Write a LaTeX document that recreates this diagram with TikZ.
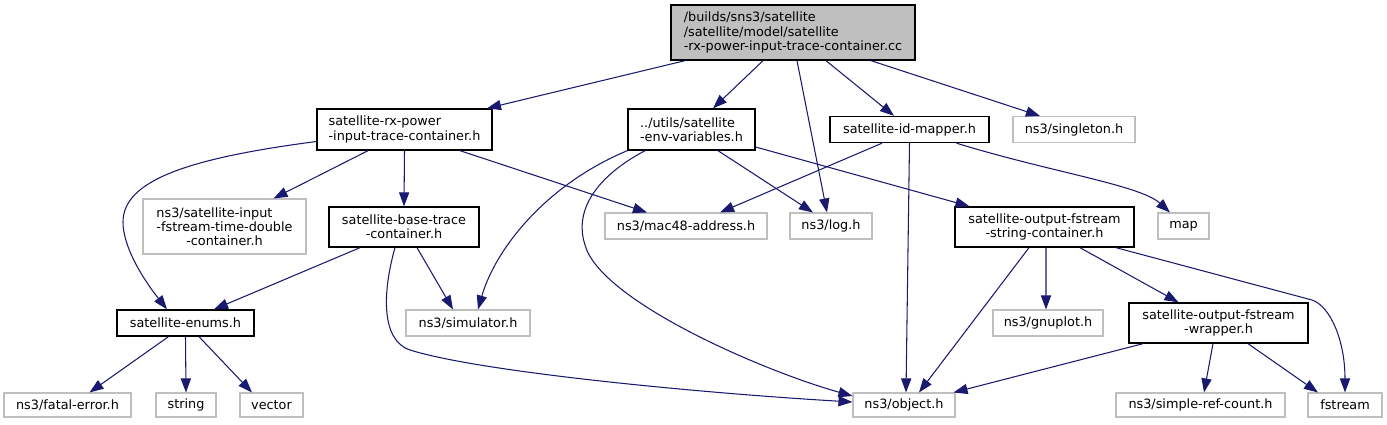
\documentclass[tikz,border=0pt]{standalone}
\usepackage{fontspec}
\setmainfont{DejaVu Sans}
\usepackage{tikz}
\usetikzlibrary{arrows.meta,positioning,calc}

\definecolor{edgeblue}{HTML}{191970}
\definecolor{grey75}{HTML}{BFBFBF}

\tikzset{
    every node/.style={font=\fontsize{7.3}{8.2}\selectfont, inner sep=0pt, minimum height=0.52cm},
    rootbox/.style={draw=black, line width=0.75pt, fill=grey75},
    filebox/.style={draw=black, line width=0.75pt, fill=white},
    sysbox/.style={draw=grey75, line width=0.6pt, fill=white},
    inc/.style={draw=edgeblue, line width=0.6pt, -{Triangle[length=8pt,width=5.8pt]}}
}

\begin{document}
\begin{tikzpicture}[x=0.02cm,y=-0.02cm]

                % Fixed frame (pixel grid of the graph)
                \useasboundingbox (0,0) rectangle (1387,424);

                % Source file
                \node[rootbox, minimum width=4.88cm, minimum height=1.10cm, align=left] (cc) at (793,32.5)
                    {/builds/sns3/satellite\\/satellite/model/satellite\\-rx-power-input-trace-container.cc};

                % First level
                \node[filebox, minimum width=3.50cm, minimum height=0.82cm, align=left] (rxpower) at (404.5,129.5)
                    {satellite-rx-power\\-input-trace-container.h};
                \node[filebox, minimum width=2.54cm, minimum height=0.82cm, align=left] (envvar) at (691.5,129.5)
                    {../utils/satellite\\-env-variables.h};
                \node[filebox, minimum width=3.18cm] (idmapper) at (909.5,129.5) {satellite-id-mapper.h};
                \node[sysbox, minimum width=2.44cm] (singleton) at (1074,129.5) {ns3/singleton.h};

                % Second level
                \node[sysbox, minimum width=3.26cm, minimum height=1.10cm, align=center] (inputfs) at (224.5,226.5)
                    {\begin{tabular}[b]{@{}l@{}}ns3/satellite-input\\-fstream-time-double\end{tabular}\\-container.h};
                \node[filebox, minimum width=3.00cm, minimum height=0.80cm, align=center] (basetrace) at (404,227)
                    {satellite-base-trace\\-container.h};
                \node[sysbox, minimum width=3.24cm] (mac48) at (686,226) {ns3/mac48-address.h};
                \node[sysbox, minimum width=1.64cm] (log) at (831,226) {ns3/log.h};
                \node[filebox, minimum width=3.58cm, minimum height=0.80cm, align=center] (strcont) at (1044.5,227)
                    {satellite-output-fstream\\-string-container.h};
                \node[sysbox, minimum width=1.02cm] (map) at (1183.5,226) {map};

                % Third level
                \node[filebox, minimum width=2.74cm] (enums) at (185.5,323) {satellite-enums.h};
                \node[sysbox, minimum width=2.48cm] (simulator) at (468,323) {ns3/simulator.h};
                \node[sysbox, minimum width=2.20cm] (gnuplot) at (1048,323) {ns3/gnuplot.h};
                \node[filebox, minimum width=3.58cm, minimum height=0.80cm, align=center] (wrapper) at (1218.5,323)
                    {satellite-output-fstream\\-wrapper.h};

                % Bottom row
                \node[sysbox, minimum width=2.54cm, minimum height=0.48cm] (fatal) at (67.5,405) {ns3/fatal-error.h};
                \node[sysbox, minimum width=1.20cm, minimum height=0.48cm] (string) at (186,405) {string};
                \node[sysbox, minimum width=1.26cm, minimum height=0.48cm] (vector) at (271.5,405) {vector};
                \node[sysbox, minimum width=2.04cm, minimum height=0.48cm] (object) at (904,405) {ns3/object.h};
                \node[sysbox, minimum width=3.38cm, minimum height=0.48cm] (simpleref) at (1200.5,405) {ns3/simple-ref-count.h};
                \node[sysbox, minimum width=1.48cm, minimum height=0.48cm] (fstream) at (1345,405) {fstream};

                % Includes of the source file
                \draw[inc] ([xshift=-2.16cm]cc.south) -- ([xshift=1.65cm]rxpower.north);
                \draw[inc] ([xshift=-0.60cm]cc.south) -- ([xshift=0.43cm]envvar.north);
                \draw[inc] ([xshift=0.08cm]cc.south) -- ([xshift=-0.08cm]log.north);
                \draw[inc] ([xshift=0.66cm]cc.south) -- ([xshift=-0.31cm]idmapper.north);
                \draw[inc] ([xshift=1.56cm]cc.south) -- ([xshift=-0.68cm]singleton.north);

                % satellite-rx-power-input-trace-container.h
                \draw[inc] ([yshift=-0.24cm]rxpower.west) .. controls (190,158) and (123,180) .. (123,222)
                    .. controls (123,245) and (140,275) .. ([xshift=-0.37cm]enums.north);
                \draw[inc] ([xshift=-0.73cm]rxpower.south) -- ([xshift=0.98cm]inputfs.north);
                \draw[inc] (rxpower.south) -- (basetrace.north);
                \draw[inc] ([xshift=1.11cm]rxpower.south) -- ([xshift=-0.78cm]mac48.north);

                % ../utils/satellite-env-variables.h
                \draw[inc] (envvar.south west) .. controls (545,185) and (495,250) .. ([xshift=0.20cm]simulator.north);
                \draw[inc] ([xshift=-0.93cm]envvar.south) .. controls (590,180) and (575,215) .. (585,245)
                    .. controls (600,300) and (760,370) .. ([yshift=0.18cm]object.west);
                \draw[inc] ([xshift=0.53cm]envvar.south) -- ([xshift=-0.36cm]log.north);
                \draw[inc] ([yshift=-0.35cm]envvar.east) -- ([xshift=-1.50cm]strcont.north);

                % satellite-id-mapper.h
                \draw[inc] ([xshift=-0.55cm]idmapper.south) -- ([xshift=0.68cm]mac48.north);
                \draw[inc] (idmapper.south) -- ([xshift=0.04cm]object.north);
                \draw[inc] ([xshift=0.94cm]idmapper.south) .. controls (1050,172) and (1140,185) .. ([xshift=-0.27cm]map.north);

                % satellite-base-trace-container.h
                \draw[inc] ([xshift=-0.88cm]basetrace.south) -- ([xshift=0.57cm]enums.north);
                \draw[inc] ([xshift=0.26cm]basetrace.south) -- ([xshift=-0.30cm]simulator.north);
                \draw[inc] ([xshift=-0.18cm]basetrace.south) .. controls (383,290) and (380,340) .. (410,350)
                    .. controls (480,372) and (700,393) .. ([yshift=0.06cm]object.west);

                % satellite-enums.h
                \draw[inc] ([xshift=-0.34cm]enums.south) -- ([xshift=0.44cm]fatal.north);
                \draw[inc] (enums.south) -- (string.north);
                \draw[inc] ([xshift=0.27cm]enums.south) -- ([xshift=-0.39cm]vector.north);

                % satellite-output-fstream-string-container.h
                \draw[inc] ([xshift=-0.31cm]strcont.south) -- ([xshift=0.30cm]object.north);
                \draw[inc] ([xshift=0.03cm]strcont.south) -- ([xshift=-0.04cm]gnuplot.north);
                \draw[inc] ([xshift=0.71cm]strcont.south) -- ([xshift=-0.80cm]wrapper.north);
                \draw[inc] ([xshift=1.43cm]strcont.south) -- (1312,300)
                    .. controls (1330,306) and (1345,340) .. (fstream.north);

                % satellite-output-fstream-wrapper.h
                \draw[inc] ([xshift=-1.51cm]wrapper.south) -- ([xshift=-0.04cm]object.north east);
                \draw[inc] ([xshift=-0.11cm]wrapper.south) -- ([xshift=0.07cm]simpleref.north);
                \draw[inc] ([xshift=0.59cm]wrapper.south) -- ([xshift=-0.54cm]fstream.north);
            \end{tikzpicture}
\end{document}
